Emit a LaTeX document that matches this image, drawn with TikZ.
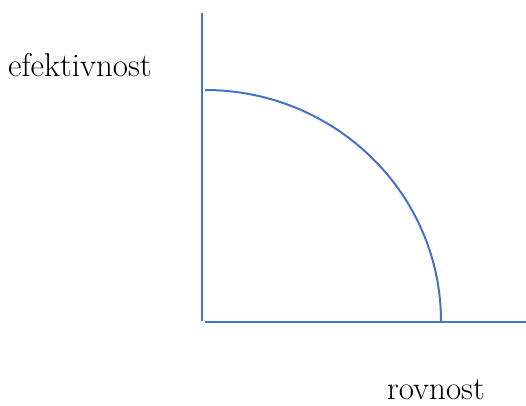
\documentclass[tikz,border=0pt]{standalone}
\usepackage{tikz}
\usetikzlibrary{calc}
\definecolor{axisblue}{HTML}{4472C4}
\tikzset{axis/.style={axisblue, line width=2pt},
  axislabel/.style={anchor=base west, inner sep=0pt, font=\fontsize{33}{40}\selectfont}}

\begin{document}
\begin{tikzpicture}[x=1pt,y=-1pt]
  \useasboundingbox (0,0) rectangle (526,405);
  \coordinate (ytop) at (201.5,13);
  \coordinate (ybot) at (201.5,321);
  \coordinate (origin) at (205,321.5);
  \coordinate (xend) at (526,321.5);
  \draw[axis] (ytop) -- (ybot);
  \draw[axis] (origin) -- (xend);
  \draw[axis] (205,90) arc[start angle=270, end angle=360, x radius=236, y radius=231.5];
  \node[axislabel] (eff) at (8,76) {efektivnost};
  \node[axislabel] (rov) at (387,399.5) {rovnost};
\end{tikzpicture}
\end{document}
